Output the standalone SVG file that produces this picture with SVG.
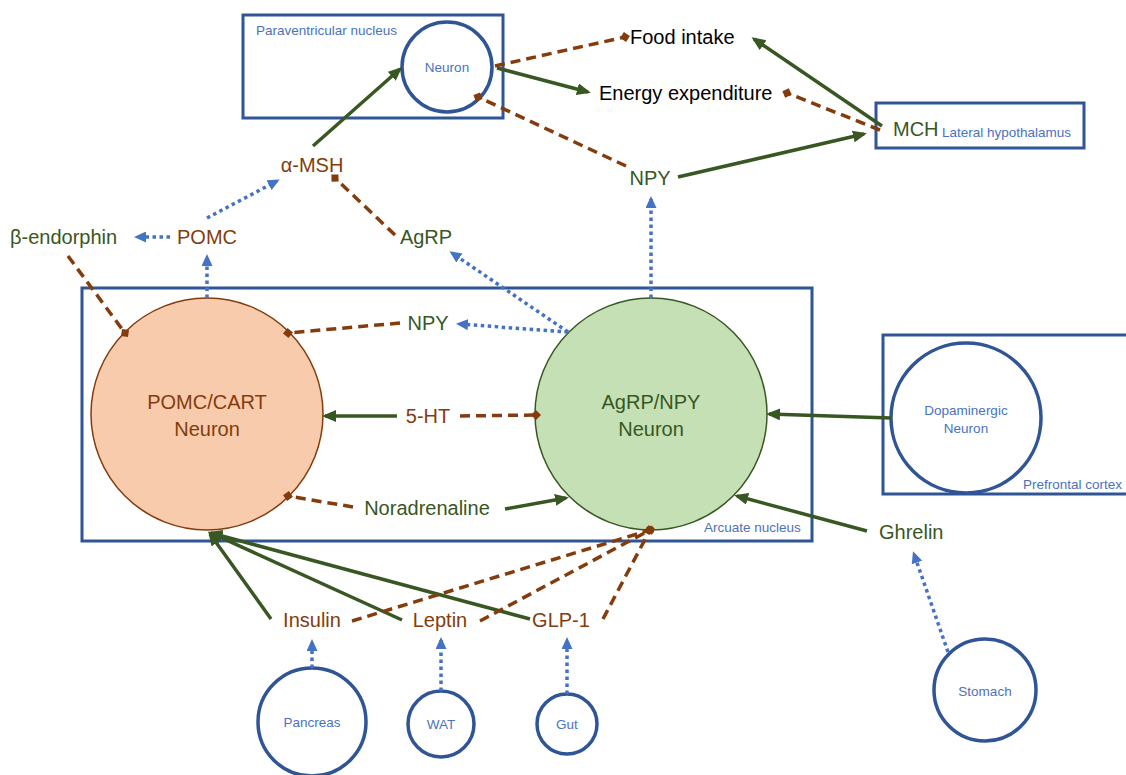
<svg xmlns="http://www.w3.org/2000/svg" width="1126" height="775" viewBox="0 0 1126 775">
<style>
.box{fill:none;stroke:#2F5597;stroke-width:3}
.org{fill:#fff;stroke:#2F5597;stroke-width:3.5}
.sm{font-family:"Liberation Sans",Arial,sans-serif;font-size:13.5px;fill:#4A72C0}
.lb{font-family:"Liberation Sans",Arial,sans-serif;font-size:20px}
.br{fill:#843C0C}
.gr{fill:#385723}
.bk{fill:#000}
.g{stroke:#385723;stroke-width:3.5;fill:none;marker-end:url(#arrG)}
.d{stroke:#843C0C;stroke-width:3.5;fill:none;stroke-dasharray:10 6;marker-end:url(#dia)}
.b{stroke:#4472C4;stroke-width:3.5;fill:none;stroke-dasharray:3.5 3.5;marker-end:url(#arrB)}
</style>
<defs>
<marker id="arrG" viewBox="0 0 14 12" refX="11" refY="6" markerWidth="14" markerHeight="12" markerUnits="userSpaceOnUse" orient="auto"><path d="M0,0 L14,6 L0,12 z" fill="#385723"/></marker>
<marker id="arrB" viewBox="0 0 12 11" refX="9" refY="5.5" markerWidth="12" markerHeight="11" markerUnits="userSpaceOnUse" orient="auto"><path d="M0,0 L12,5.5 L0,11 z" fill="#4472C4"/></marker>
<marker id="dia" viewBox="0 0 10 10" refX="5" refY="5" markerWidth="10" markerHeight="10" markerUnits="userSpaceOnUse" orient="auto"><path d="M0,5 L5,0 L10,5 L5,10 z" fill="#843C0C"/></marker>
</defs>
<rect width="1126" height="775" fill="#fff"/>

<g id="pvn">
<rect class="box" x="243" y="15" width="260" height="103"/>
<text class="sm" x="256" y="35">Paraventricular nucleus</text>
</g>
<g id="pvn-neuron">
<circle class="org" cx="447" cy="67" r="45"/>
<text class="sm" x="447" y="72" text-anchor="middle">Neuron</text>
</g>
<g id="food-intake"><text class="lb bk" x="630" y="44">Food intake</text></g>
<g id="energy-expenditure"><text class="lb bk" x="599" y="100">Energy expenditure</text></g>
<g id="mch">
<rect class="box" x="876" y="103" width="208" height="45"/>
<text class="lb gr" x="893" y="136">MCH</text>
<text class="sm" x="942" y="137">Lateral hypothalamus</text>
</g>
<g id="npy-top"><text class="lb gr" x="650" y="185" text-anchor="middle">NPY</text></g>
<g id="amsh"><text class="lb br" x="312" y="172" text-anchor="middle">α-MSH</text></g>
<g id="pomc"><text class="lb br" x="207" y="244" text-anchor="middle">POMC</text></g>
<g id="bendorphin"><text class="lb gr" x="10" y="244">β-endorphin</text></g>
<g id="agrp"><text class="lb gr" x="426" y="244" text-anchor="middle">AgRP</text></g>

<g id="arcuate">
<rect class="box" x="82" y="288" width="730" height="253"/>
<text class="sm" x="704" y="532">Arcuate nucleus</text>
</g>
<g id="pomc-cart">
<circle cx="207" cy="414" r="116" fill="#F8CBAD" stroke="#843C0C" stroke-width="1.5"/>
<text class="lb br" x="207" y="409" text-anchor="middle">POMC/CART</text>
<text class="lb br" x="207" y="436" text-anchor="middle">Neuron</text>
</g>
<g id="agrp-npy">
<circle cx="651" cy="414" r="116" fill="#C5E0B4" stroke="#385723" stroke-width="1.5"/>
<text class="lb gr" x="651" y="409" text-anchor="middle">AgRP/NPY</text>
<text class="lb gr" x="651" y="436" text-anchor="middle">Neuron</text>
</g>
<g id="npy-mid"><text class="lb gr" x="428" y="330" text-anchor="middle">NPY</text></g>
<g id="ht5"><text class="lb br" x="428" y="423" text-anchor="middle">5-HT</text></g>
<g id="noradrenaline"><text class="lb gr" x="427" y="515" text-anchor="middle">Noradrenaline</text></g>

<g id="prefrontal">
<rect class="box" x="883" y="335" width="260" height="159"/>
<text class="sm" x="1023" y="489">Prefrontal cortex</text>
</g>
<g id="dopaminergic">
<circle class="org" cx="966" cy="418" r="75"/>
<text class="sm" x="966" y="415" text-anchor="middle">Dopaminergic</text>
<text class="sm" x="966" y="433" text-anchor="middle">Neuron</text>
</g>
<g id="ghrelin"><text class="lb gr" x="879" y="539">Ghrelin</text></g>
<g id="stomach">
<circle class="org" cx="985" cy="690" r="51"/>
<text class="sm" x="985" y="696" text-anchor="middle">Stomach</text>
</g>
<g id="insulin"><text class="lb br" x="312" y="627" text-anchor="middle">Insulin</text></g>
<g id="leptin"><text class="lb br" x="440" y="627" text-anchor="middle">Leptin</text></g>
<g id="glp1"><text class="lb br" x="561" y="627" text-anchor="middle">GLP-1</text></g>
<g id="pancreas">
<circle class="org" cx="312" cy="722" r="54"/>
<text class="sm" x="312" y="727" text-anchor="middle">Pancreas</text>
</g>
<g id="wat">
<circle class="org" cx="441" cy="724" r="33"/>
<text class="sm" x="441" y="729" text-anchor="middle">WAT</text>
</g>
<g id="gut">
<circle class="org" cx="567" cy="724" r="30"/>
<text class="sm" x="567" y="729" text-anchor="middle">Gut</text>
</g>

<g id="connectors">
<line class="g" x1="313" y1="146" x2="400" y2="69"/>
<line class="d" x1="495" y1="66" x2="625" y2="37"/>
<line class="g" x1="497" y1="68" x2="588" y2="92"/>
<line class="d" x1="626" y1="166" x2="478" y2="97"/>
<line class="g" x1="678" y1="177" x2="864" y2="134"/>
<line class="g" x1="882" y1="126" x2="754" y2="39"/>
<line class="d" x1="880" y1="130" x2="787" y2="93"/>
<line class="b" x1="651" y1="298" x2="651" y2="199"/>
<line class="b" x1="207" y1="218" x2="277" y2="181"/>
<line class="b" x1="170" y1="237" x2="137" y2="237"/>
<line class="b" x1="207" y1="298" x2="207" y2="257"/>
<line class="d" x1="395" y1="235" x2="335" y2="178"/>
<line class="b" x1="568" y1="332" x2="452" y2="253"/>
<line class="b" x1="568" y1="332" x2="459" y2="324"/>
<line class="d" x1="68" y1="256" x2="125" y2="333"/>
<line class="d" x1="400" y1="323" x2="288" y2="333"/>
<line class="g" x1="397" y1="416" x2="325" y2="416"/>
<line class="d" x1="460" y1="416" x2="536" y2="415"/>
<line class="d" x1="353" y1="507" x2="288" y2="496"/>
<line class="g" x1="505" y1="509" x2="566" y2="498"/>
<line class="g" x1="891" y1="418" x2="769" y2="414"/>
<line class="g" x1="867" y1="531" x2="737" y2="496"/>
<line class="b" x1="948" y1="652" x2="914" y2="554"/>
<line class="g" x1="271" y1="619" x2="210" y2="534"/>
<line class="g" x1="402" y1="620" x2="211" y2="533"/>
<line class="g" x1="530" y1="619" x2="211" y2="533"/>
<line class="d" x1="352" y1="621" x2="650" y2="530"/>
<line class="d" x1="480" y1="621" x2="650" y2="530"/>
<line class="d" x1="603" y1="619" x2="650" y2="530"/>
<line class="b" x1="312" y1="668" x2="312" y2="642"/>
<line class="b" x1="441" y1="691" x2="441" y2="640"/>
<line class="b" x1="567" y1="694" x2="567" y2="640"/>
</g>
</svg>
